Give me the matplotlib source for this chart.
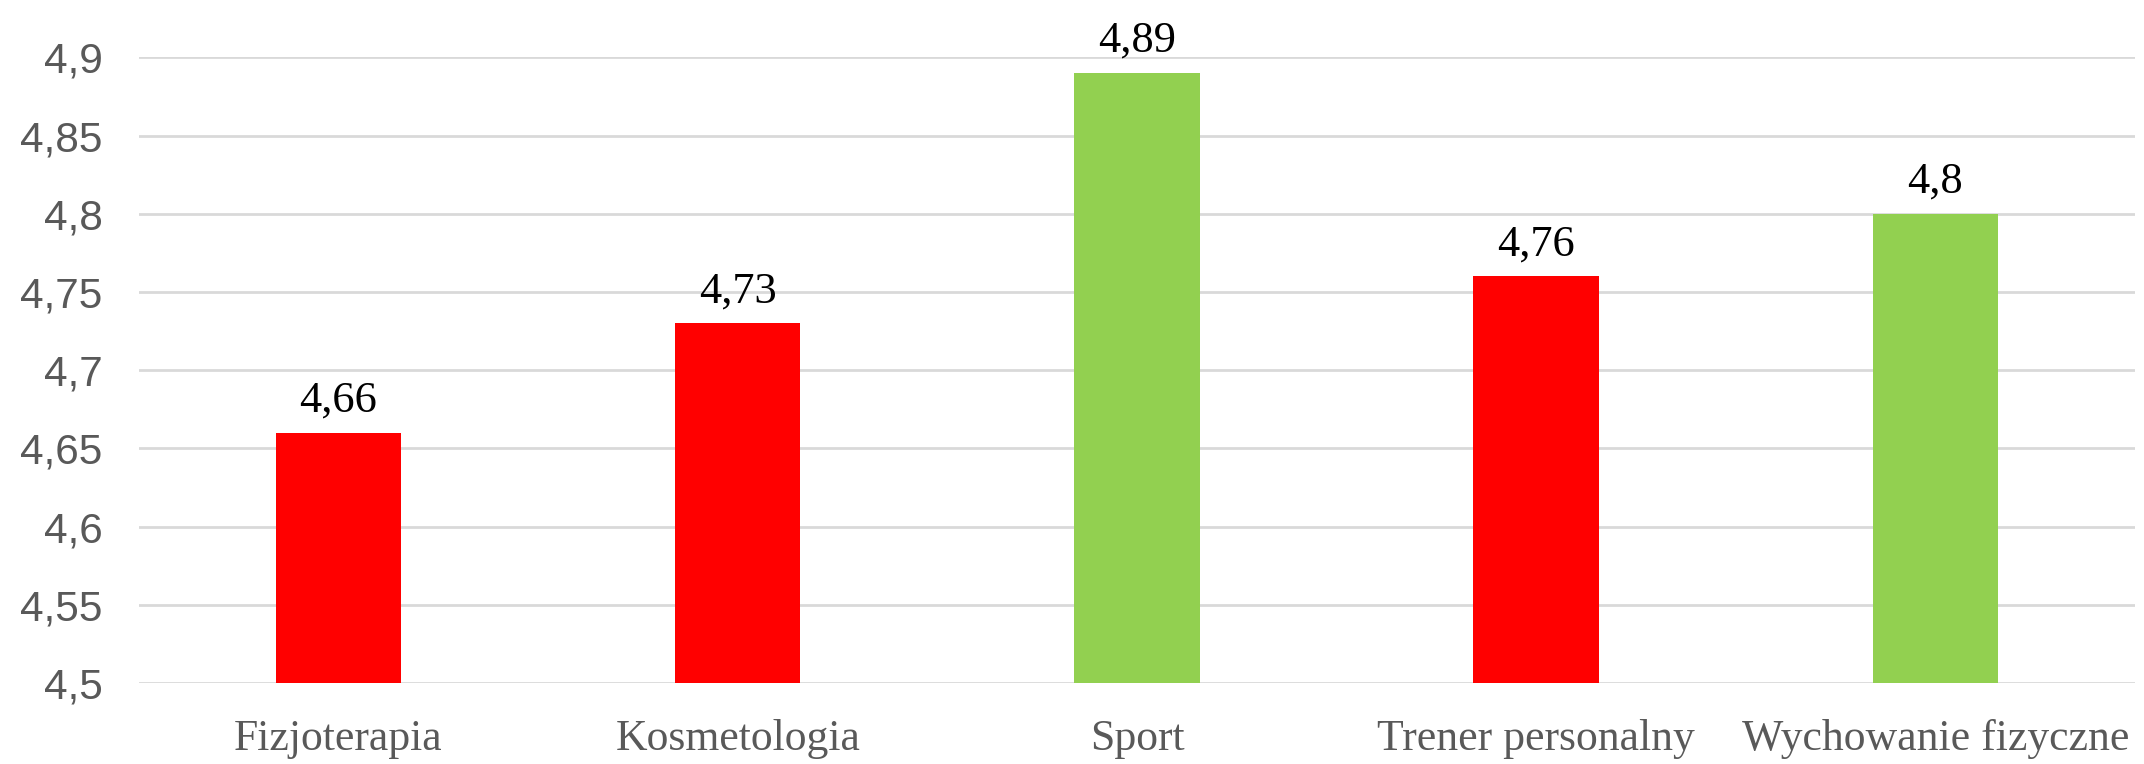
import matplotlib.pyplot as plt

categories = ['Fizjoterapia', 'Kosmetologia', 'Sport', 'Trener personalny', 'Wychowanie fizyczne']
values = [4.66, 4.73, 4.89, 4.76, 4.80]
labels = ['4,66', '4,73', '4,89', '4,76', '4,8']
bar_colors = ['#FF0000', '#FF0000', '#92D050', '#FF0000', '#92D050']
yticks = [4.5, 4.55, 4.6, 4.65, 4.7, 4.75, 4.8, 4.85, 4.9]
ytick_labels = ['4,5', '4,55', '4,6', '4,65', '4,7', '4,75', '4,8', '4,85', '4,9']


def main():
    fig = plt.figure(figsize=(21.44, 7.64), dpi=100)
    ax = fig.add_axes([0.0648, 0.106, 0.931, 0.819])

    x = range(len(categories))
    ax.bar(x, values, width=0.314, color=bar_colors, bottom=0, zorder=3)
    ax.set_ylim(4.5, 4.9)
    ax.set_xlim(-0.5, 4.5)

    # value labels above the bars
    for xi, v, lab in zip(x, values, labels):
        ax.text(xi, v + 0.0135, lab, ha='center', va='baseline', fontsize=32,
                family='Liberation Serif', color='black', clip_on=False)

    ax.set_yticks(yticks)
    ax.set_yticklabels(ytick_labels, fontsize=30.5, family='Liberation Sans', color='#595959')
    ax.set_xticks(list(x))
    ax.set_xticklabels(categories, fontsize=31.5, family='Liberation Serif', color='#595959')
    ax.tick_params(axis='both', length=0)
    ax.tick_params(axis='y', pad=26)
    ax.tick_params(axis='x', pad=26)

    ax.grid(axis='y', color='#D9D9D9', linewidth=2, zorder=0)
    for s in ax.spines.values():
        s.set_visible(False)

    fig.savefig('out.png', dpi=100, facecolor='white')
    plt.close(fig)


if __name__ == '__main__':
    main()
